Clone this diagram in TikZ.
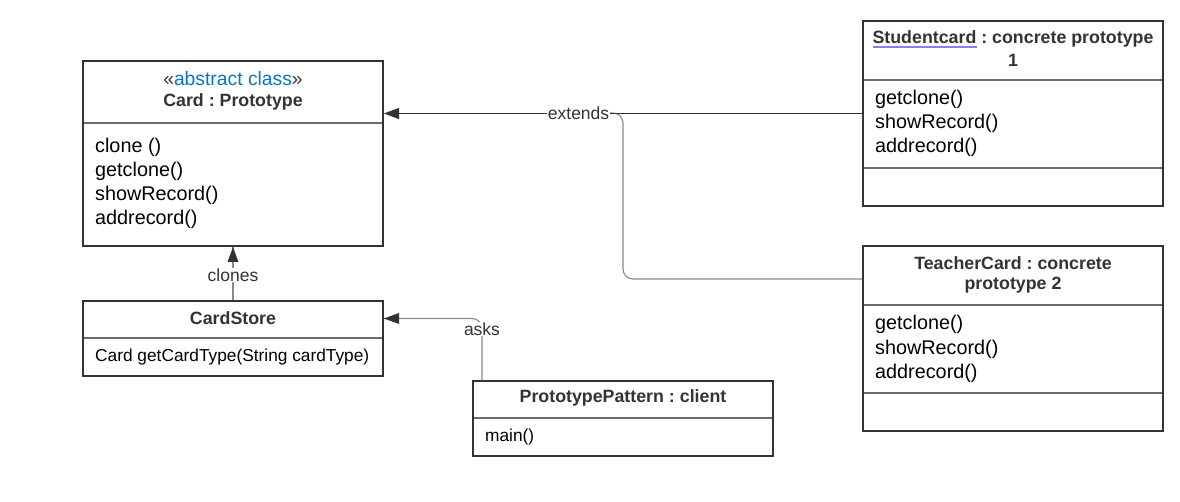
\documentclass[tikz,border=0pt]{standalone}
\usepackage{fontspec}
\setmainfont{Liberation Sans}
\frenchspacing
\usetikzlibrary{arrows.meta}
\definecolor{bord}{HTML}{333333}
\definecolor{divc}{HTML}{6A6A6A}
\definecolor{ttl}{HTML}{333333}
\definecolor{conn}{HTML}{888888}
\definecolor{absblue}{HTML}{0B74C4}
\definecolor{uline}{HTML}{8C7CF0}
\tikzset{
  umlbox/.style={draw=bord, line width=2pt, fill=white, rectangle, inner sep=0pt},
  divider/.style={draw=divc, line width=1.6pt},
  titletext/.style={font=\fontsize{17.8}{20}\selectfont\bfseries, text=ttl, inner sep=0pt},
  methtext/.style={font=\fontsize{19.8}{22}\selectfont, text=black, anchor=base west, inner sep=0pt},
  smalltext/.style={font=\fontsize{17.3}{19}\selectfont, text=black, anchor=base west, inner sep=0pt},
  lbl/.style={font=\fontsize{17.5}{20}\selectfont, text=ttl, fill=white, inner sep=1pt},
  tri/.style={-{Triangle[length=15pt,width=11pt]}},
}
\begin{document}
\begin{tikzpicture}[x=1pt,y=-1pt]
\useasboundingbox (0,0) rectangle (1180,502);
% Card
\node[umlbox, minimum width=300pt, minimum height=185pt] (card) at (233,153.5) {};
\draw[divider] (84,123) -- (382,123);
\node[font=\fontsize{19.3}{21}\selectfont, inner sep=0pt] (cardst) at (233,78.5) {\textcolor{ttl}{«}\textcolor{absblue}{abstract class}\textcolor{ttl}{»}};
\node[titletext] (cardt) at (233,102) {Card : Prototype};
\node[methtext] (cm1) at (95,153) {clone ()};
\node[methtext] (cm2) at (95,177) {getclone()};
\node[methtext] (cm3) at (95,201) {showRecord()};
\node[methtext] (cm4) at (95,225) {addrecord()};
% CardStore
\node[umlbox, minimum width=300pt, minimum height=75pt] (store) at (233,338.5) {};
\draw[divider] (84,338) -- (382,338);
\node[titletext] (storet) at (233,318.5) {CardStore};
\node[smalltext] (sm1) at (95,361) {Card getCardType(String cardType)};
% PrototypePattern
\node[umlbox, minimum width=300pt, minimum height=75pt] (proto) at (623,418.5) {};
\draw[divider] (474,418) -- (772,418);
\node[titletext] (protot) at (623,398) {PrototypePattern : client};
\node[smalltext] (pm1) at (485,441.5) {main()};
% Studentcard
\node[umlbox, minimum width=300pt, minimum height=185pt] (stud) at (1013,113.5) {};
\draw[divider] (864,80) -- (1162,80);
\draw[divider] (864,168) -- (1162,168);
\node[titletext] (studt1) at (1013,38.5) {Studentcard : concrete prototype};
\draw[uline, line width=1.2pt] (873,47) -- (977,47);
\node[titletext] (studt2) at (1013,60) {1};
\node[methtext] (sm1b) at (875,105) {getclone()};
\node[methtext] (sm2b) at (875,129) {showRecord()};
\node[methtext] (sm3b) at (875,153) {addrecord()};
% TeacherCard
\node[umlbox, minimum width=300pt, minimum height=185pt] (teach) at (1013,338.5) {};
\draw[divider] (864,305) -- (1162,305);
\draw[divider] (864,393) -- (1162,393);
\node[titletext] (teacht1) at (1013,263.5) {TeacherCard : concrete};
\node[titletext] (teacht2) at (1013,285) {prototype 2};
\node[methtext] (tm1) at (875,330) {getclone()};
\node[methtext] (tm2) at (875,354) {showRecord()};
\node[methtext] (tm3) at (875,378) {addrecord()};
% connectors
\coordinate (tj) at (teach.west |- 0,279);
\coordinate (cj) at (card.east |- stud.west);
\draw[conn, line width=1.1pt, rounded corners=10pt] (tj) -- (623,279) -- (623,113) -- (608,113);
\draw[bord, line width=1.1pt, tri] (stud.west) -- (cj) node[lbl, pos=0.593] (ext) {extends};
\draw[conn, line width=1.1pt] (store.north) -- (card.south);
\draw[draw=none, fill=bord] (card.south) -- ++(-5.5,15) -- ++(11,0) -- cycle;
\node[lbl] (clo) at (233,275) {clones};
\coordinate (pj) at ([xshift=10pt]proto.north west);
\coordinate (sj) at (store.east |- 0,318.5);
\draw[conn, line width=1.1pt, rounded corners=10pt] (pj) -- (pj |- sj) -- (sj);
\draw[draw=none, fill=bord] (sj) -- ++(15,-5.5) -- ++(0,11) -- cycle;
\node[lbl] (ask) at (482,329) {asks};
\end{tikzpicture}
\end{document}
